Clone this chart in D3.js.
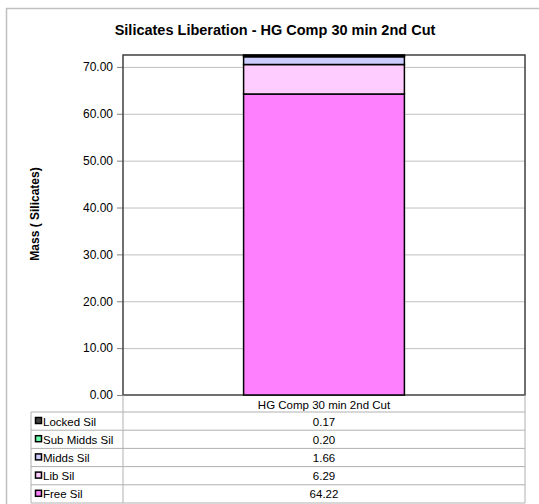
<html>
<head>
  <title>Silicates Liberation</title>
  <script src="https://d3js.org/d3.v7.min.js"></script>
  <style>
    body { margin: 0; background: #fff; }
    text { font-family: "Liberation Sans", Arial, sans-serif; fill: #000; }
    .grid line { stroke: #c0c0c0; }
    .grid .domain { stroke: none; }
    .y.axis .domain { stroke: none; }
    .y.axis line { stroke: #808080; }
    .y.axis text { font-size: 12px; }
    .tbl line { stroke: #b0b0b0; stroke-width: 1px; }
  </style>
</head>
<body>
  <svg id="chart" width="539" height="504"></svg>
  <script>
    // data
    const categories = ["HG Comp 30 min 2nd Cut"];
    const seriesNames = ["Free Sil", "Lib Sil", "Midds Sil", "Sub Midds Sil", "Locked Sil"];
    const seriesValues = [64.22, 6.29, 1.66, 0.20, 0.17];
    const seriesColors = ["#ff80ff", "#ffccff", "#ccccff", "#66ffaa", "#404040"];
    const yTicks = [0, 10, 20, 30, 40, 50, 60, 70];

    const svg = d3.select("#chart");
    const plot = { left: 123, right: 525, top: 55, bottom: 395 };

    // outer chart border
    svg.append("path")
      .attr("d", "M6.5,504 L6.5,8.5 L539,8.5")
      .attr("fill", "none").attr("stroke", "#c0c0c0").attr("stroke-width", 1.5);

    svg.append("text")
      .attr("x", 275).attr("y", 35)
      .attr("text-anchor", "middle")
      .style("font-size", "14.5px").style("font-weight", "bold")
      .text("Silicates Liberation - HG Comp 30 min 2nd Cut");

    const row = {};
    seriesNames.forEach((s, i) => row[s] = seriesValues[i]);
    const stacked = d3.stack().keys(seriesNames)([row]);
    const total = d3.sum(seriesValues);

    const y = d3.scaleLinear().domain([0, total]).range([plot.bottom, plot.top]);
    const x = d3.scaleBand().domain(categories).range([plot.left, plot.right])
      .paddingInner(0.6).paddingOuter(0.3);

    // gridlines
    svg.append("g").attr("class", "grid")
      .attr("transform", `translate(${plot.left},0)`)
      .call(d3.axisLeft(y).tickValues(yTicks.slice(1)).tickSize(-(plot.right - plot.left)).tickFormat(""));

    // y axis
    svg.append("g").attr("class", "y axis")
      .attr("transform", `translate(${plot.left},0)`)
      .call(d3.axisLeft(y).tickValues(yTicks).tickSize(6).tickPadding(4).tickFormat(d3.format(".2f")));

    // plot frame
    svg.append("rect")
      .attr("x", plot.left).attr("y", plot.top)
      .attr("width", plot.right - plot.left).attr("height", plot.bottom - plot.top)
      .attr("fill", "none").attr("stroke", "#404040").attr("stroke-width", 1.5);

    // bars
    svg.append("g").selectAll("rect").data(stacked)
      .join("rect")
      .attr("x", x(categories[0]))
      .attr("width", x.bandwidth())
      .attr("y", d => y(d[0][1]))
      .attr("height", d => y(d[0][0]) - y(d[0][1]))
      .attr("fill", (d, i) => seriesColors[i])
      .attr("stroke", "#000").attr("stroke-width", 1.5);

    svg.append("text")
      .attr("transform", "translate(39,214) rotate(-90)")
      .attr("text-anchor", "middle")
      .style("font-size", "12px").style("font-weight", "bold")
      .text("Mass ( Silicates)");

    // data table
    const tbl = svg.append("g").attr("class", "tbl");
    const headerBottom = 412;
    const rowH = 18.2;
    const tableLeft = 31;
    const tableRows = seriesNames.slice().reverse();
    const tableVals = seriesValues.slice().reverse();
    const tableColors = seriesColors.slice().reverse();

    tbl.append("text")
      .attr("x", x(categories[0]) + x.bandwidth() / 2).attr("y", 408.5)
      .attr("text-anchor", "middle").style("font-size", "11.5px")
      .text(categories[0]);

    const lines = [];
    for (let i = 0; i <= tableRows.length; i++) {
      const yy = headerBottom + i * rowH;
      lines.push([tableLeft, yy, plot.right, yy]);
    }
    lines.push([tableLeft, headerBottom, tableLeft, headerBottom + tableRows.length * rowH]);
    lines.push([plot.left, plot.bottom, plot.left, headerBottom + tableRows.length * rowH]);
    lines.push([plot.right, plot.bottom, plot.right, headerBottom + tableRows.length * rowH]);
    tbl.selectAll("line").data(lines).join("line")
      .attr("x1", d => d[0]).attr("y1", d => d[1])
      .attr("x2", d => d[2]).attr("y2", d => d[3]);

    const rows = tbl.selectAll("g.row").data(tableRows).join("g")
      .attr("class", "row")
      .attr("transform", (d, i) => `translate(0,${headerBottom + i * rowH})`);
    rows.append("rect")
      .attr("x", 35.5).attr("y", 5.5).attr("width", 6).attr("height", 6)
      .attr("fill", (d, i) => tableColors[i]).attr("stroke", "#000").attr("stroke-width", 1.5);
    rows.append("text")
      .attr("x", 43).attr("y", 13.5).style("font-size", "11.5px")
      .text(d => d);
    rows.append("text")
      .attr("x", x(categories[0]) + x.bandwidth() / 2).attr("y", 13.5)
      .attr("text-anchor", "middle").style("font-size", "11.5px")
      .text((d, i) => d3.format(".2f")(tableVals[i]));
  </script>
</body>
</html>
